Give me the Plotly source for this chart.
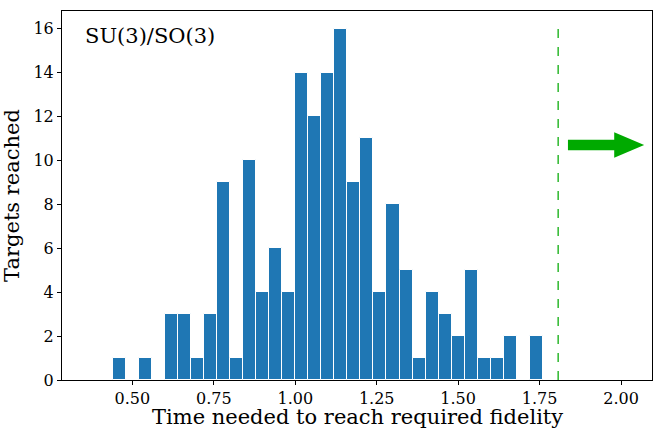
import plotly.graph_objects as go

# Histogram bins (left edges) and counts
bin_width = 0.04
bin_left = [0.44, 0.48, 0.52, 0.56, 0.60, 0.64, 0.68, 0.72, 0.76, 0.80, 0.84,
            0.88, 0.92, 0.96, 1.00, 1.04, 1.08, 1.12, 1.16, 1.20, 1.24, 1.28,
            1.32, 1.36, 1.40, 1.44, 1.48, 1.52, 1.56, 1.60, 1.64, 1.68, 1.72]
counts = [1, 0, 1, 0, 3, 3, 1, 3, 9, 1, 10,
          4, 6, 4, 14, 12, 14, 16, 9, 11, 4, 8,
          5, 1, 4, 3, 2, 5, 1, 1, 2, 0, 2]

threshold_x = 1.807
threshold_top = 16
arrow_x0, arrow_x1, arrow_y = 1.837, 2.071, 10.7
arrow_shaft_hw, arrow_head_hw, arrow_head_len = 0.24, 0.58, 0.092

x_ticks = [0.50, 0.75, 1.00, 1.25, 1.50, 1.75, 2.00]
y_ticks = [0, 2, 4, 6, 8, 10, 12, 14, 16]

centers = [b + bin_width / 2 for b in bin_left]

fig = go.Figure()
fig.add_trace(go.Bar(
    x=centers, y=counts, width=bin_width,
    marker=dict(color="#1f77b4", line=dict(color="white", width=1)),
    hoverinfo="x+y",
))

# threshold dashed line
fig.add_shape(type="line", x0=threshold_x, x1=threshold_x, y0=0, y1=threshold_top,
              xref="x", yref="y", line=dict(color="#2db82d", width=1.5, dash="dash"))

# arrow polygon
hx = arrow_x1 - arrow_head_len
path = (f"M {arrow_x0},{arrow_y - arrow_shaft_hw} L {hx},{arrow_y - arrow_shaft_hw} "
        f"L {hx},{arrow_y - arrow_head_hw} L {arrow_x1},{arrow_y} "
        f"L {hx},{arrow_y + arrow_head_hw} L {hx},{arrow_y + arrow_shaft_hw} "
        f"L {arrow_x0},{arrow_y + arrow_shaft_hw} Z")
fig.add_shape(type="path", path=path, xref="x", yref="y",
              fillcolor="#00aa00", line=dict(width=0))

fig.add_annotation(text="SU(3)/SO(3)", xref="paper", yref="paper",
                   x=0.036, y=0.97, xanchor="left", yanchor="top",
                   showarrow=False, font=dict(family="DejaVu Serif", size=21, color="black"))

# x-axis title as annotation for precise placement
fig.add_annotation(text="Time needed to reach required fidelity", xref="paper", yref="paper",
                   x=0.5, y=-0.137, xanchor="center", yanchor="bottom", showarrow=False,
                   font=dict(family="DejaVu Serif", size=21, color="black"))

axis_common = dict(showline=True, linecolor="black", linewidth=1, mirror=True,
                   ticks="outside", ticklen=4, tickcolor="black", showgrid=False,
                   zeroline=False, automargin=False,
                   tickfont=dict(family="DejaVu Serif", size=16, color="black"))

fig.update_layout(
    width=654, height=429,
    margin=dict(l=62, r=2, t=11, b=49),
    paper_bgcolor="white", plot_bgcolor="white",
    showlegend=False, bargap=0,
    font=dict(family="DejaVu Serif", color="black"),
    xaxis=dict(range=[0.284, 2.095], tickvals=x_ticks,
               ticktext=[f"{v:.2f}" for v in x_ticks],
               **axis_common),
    yaxis=dict(range=[0, 16.8], tickvals=y_ticks,
               title=dict(text="Targets reached",
                          font=dict(family="DejaVu Serif", size=21)),
               **axis_common),
)

fig.write_html("out.html", config={"displayModeBar": False},
               post_script="document.body.style.margin='0px';document.body.style.overflow='hidden';")
